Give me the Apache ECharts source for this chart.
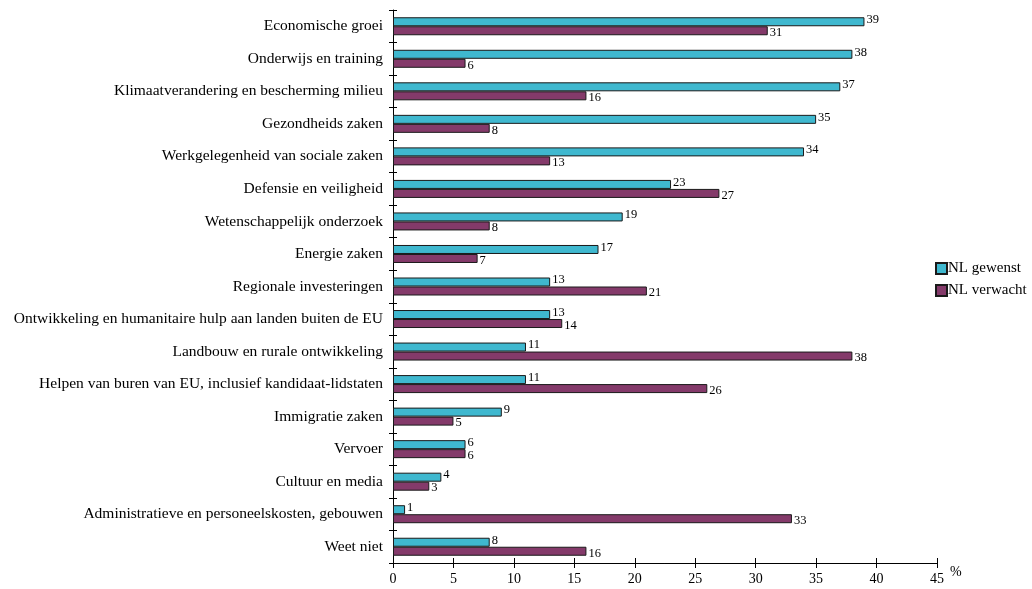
<!DOCTYPE html>
<html><head><meta charset="utf-8">
<script src="https://cdn.jsdelivr.net/npm/echarts@6/dist/echarts.min.js"></script>
<style>html,body{margin:0;padding:0;background:#fff}#c{width:1032px;height:589px}</style>
</head><body><div id="c"></div>
<script>
const categories = [
  "Economische groei",
  "Onderwijs en training",
  "Klimaatverandering en bescherming milieu",
  "Gezondheids zaken",
  "Werkgelegenheid van sociale zaken",
  "Defensie en veiligheid",
  "Wetenschappelijk onderzoek",
  "Energie zaken",
  "Regionale investeringen",
  "Ontwikkeling en humanitaire hulp aan landen buiten de EU",
  "Landbouw en rurale ontwikkeling",
  "Helpen van buren van EU, inclusief kandidaat-lidstaten",
  "Immigratie zaken",
  "Vervoer",
  "Cultuur en media",
  "Administratieve en personeelskosten, gebouwen",
  "Weet niet"
];
const gewenst = [39, 38, 37, 35, 34, 23, 19, 17, 13, 13, 11, 11, 9, 6, 4, 1, 8];
const verwacht = [31, 6, 16, 8, 13, 27, 8, 7, 21, 14, 38, 26, 5, 6, 3, 33, 16];
const seriesNames = ["NL gewenst", "NL verwacht"];
const xTicks = {min: 0, max: 45, interval: 5};

const FONT = "Liberation Serif";
const chart = echarts.init(document.getElementById('c'), null, {renderer: 'canvas'});
const labelStyle = {show: true, position: 'right', distance: 2, color: '#000', fontFamily: FONT, fontSize: 12.5, offset: [0, -2]};
chart.setOption({
  animation: false,
  textStyle: {fontFamily: FONT},
  grid: {left: 393, right: 95, top: 10, bottom: 26, containLabel: false},
  legend: {
    orient: 'vertical', left: 930, top: 256, itemWidth: 11, itemHeight: 11, itemGap: 7,
    icon: 'rect',
    textStyle: {fontFamily: FONT, fontSize: 15, color: '#000', padding: [0, 0, 0, -4]},
    data: seriesNames
  },
  xAxis: [{
    type: 'value', min: xTicks.min, max: xTicks.max, interval: xTicks.interval,
    name: '%', nameLocation: 'end', nameGap: 9,
    nameTextStyle: {fontFamily: FONT, fontSize: 14, color: '#000', verticalAlign: 'top', padding: [2, 0, 0, 0]},
    axisLine: {show: true, lineStyle: {color: '#000', width: 1}},
    axisTick: {show: true, length: 5, lineStyle: {color: '#000'}},
    axisLabel: {fontFamily: FONT, fontSize: 14, color: '#000', margin: 9},
    splitLine: {show: false}
  }, {
    type: 'value', min: xTicks.min, max: xTicks.max, interval: xTicks.interval, position: 'bottom',
    axisLine: {show: false}, axisTick: {show: true, inside: true, length: 5, lineStyle: {color: '#000'}},
    axisLabel: {show: false}, splitLine: {show: false}
  }],
  yAxis: [{
    type: 'category', data: categories, inverse: true,
    axisLine: {show: true, lineStyle: {color: '#000', width: 1}},
    axisTick: {show: true, length: 4, lineStyle: {color: '#000'}},
    axisLabel: {fontFamily: FONT, fontSize: 15.5, color: '#000', margin: 10}
  }, {
    type: 'category', data: categories, inverse: true, position: 'left',
    axisLine: {show: false},
    axisTick: {show: true, inside: true, length: 4, lineStyle: {color: '#000'}},
    axisLabel: {show: false}
  }],
  series: [{
    name: seriesNames[0], type: 'bar', data: gewenst, barWidth: 9, barGap: '0%',
    itemStyle: {color: '#3FB8CF', borderColor: '#1a1a1a', borderWidth: 1},
    label: labelStyle
  }, {
    name: seriesNames[1], type: 'bar', data: verwacht, barWidth: 9, barGap: '0%',
    itemStyle: {color: '#843A6A', borderColor: '#1a1a1a', borderWidth: 1},
    label: Object.assign({}, labelStyle, {offset: [0, 2]})
  }]
});
</script></body></html>
